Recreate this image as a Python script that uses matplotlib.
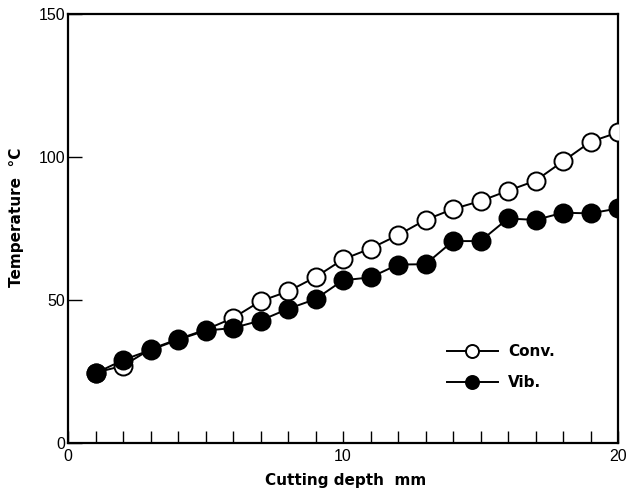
import matplotlib
matplotlib.use("Agg")
import matplotlib.pyplot as plt
import numpy as np

depth = list(range(1, 21))
conv = [24.6, 27.0, 32.8, 36.3, 39.6, 43.7, 49.6, 53.0, 58.0, 64.2,
        68.0, 72.7, 78.0, 81.8, 84.6, 88.2, 91.7, 98.5, 105.3, 108.6]
vib = [24.4, 29.0, 32.5, 36.1, 39.3, 40.2, 42.8, 46.9, 50.3, 56.9,
       57.9, 62.4, 62.5, 70.6, 70.6, 78.5, 78.0, 80.5, 80.3, 82.0]
x_major = [0, 10, 20]
y_major = [0, 50, 100, 150]

plt.rcParams['font.family'] = ['Liberation Sans', 'DejaVu Sans']

fig = plt.figure(figsize=(6.26, 4.93), dpi=100)
ax = fig.add_axes([68/626, 1-443/493, (618-68)/626, (443-14)/493])

ax.plot(depth, conv, '-o', color='black', lw=1.4, ms=13, mfc='white',
        mec='black', mew=1.4, label='Conv.', zorder=3)
ax.plot(depth, vib, '-o', color='black', lw=1.4, ms=13, mfc='black',
        mec='black', mew=1.4, label='Vib.', zorder=4)

ax.set_xlim(0, 20)
ax.set_ylim(0, 150)
ax.set_xticks(x_major)
ax.set_xticks(depth, minor=True)
ax.set_yticks(y_major)
ax.tick_params(axis='x', which='both', direction='in', length=9, width=1.0,
               labelsize=11.5, pad=4)
ax.tick_params(axis='y', which='major', direction='in', length=10, width=1.0,
               labelsize=11.5, pad=2)
for s in ax.spines.values():
    s.set_linewidth(1.6)

lab_font = dict(family='DejaVu Sans', fontsize=11, fontweight='bold')
ax.set_xlabel('Cutting depth  mm', **lab_font)
ax.set_ylabel('Temperature  °C', **lab_font)
ax.xaxis.set_label_coords(0.505, -0.07)
ax.yaxis.set_label_coords(-0.08, 0.525)

leg = ax.legend(loc='center left', bbox_to_anchor=((447-68)/550, (443-367)/429),
                frameon=False, prop={'family': 'DejaVu Sans', 'size': 11,
                                     'weight': 'bold'},
                handlelength=3.33, handletextpad=0.65, labelspacing=1.05,
                borderaxespad=0, borderpad=0, markerscale=0.72)

fig.savefig('out.png', dpi=100)
